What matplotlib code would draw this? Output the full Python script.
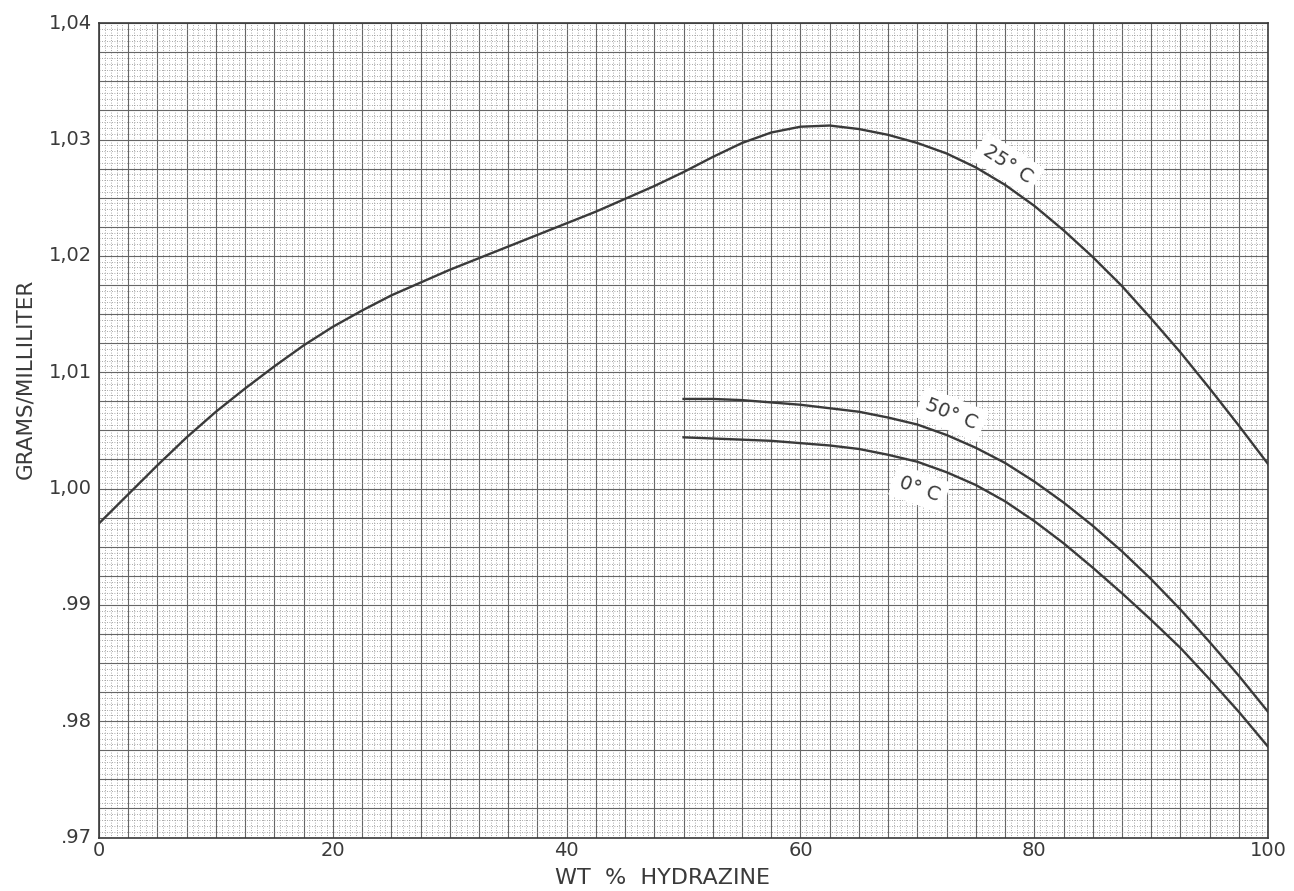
import matplotlib
matplotlib.use('Agg')
import matplotlib.pyplot as plt
import numpy as np

# density of hydrazine-water solutions
wt_25 = [0, 2.5, 5, 7.5, 10, 12.5, 15, 17.5, 20, 22.5, 25, 27.5, 30, 32.5, 35, 37.5, 40,
         42.5, 45, 47.5, 50, 52.5, 55, 57.5, 60, 62.5, 65, 67.5, 70, 72.5, 75, 77.5, 80,
         82.5, 85, 87.5, 90, 92.5, 95, 97.5, 100]
dens_25 = [0.9970, 0.9995, 1.0020, 1.0044, 1.0066, 1.0086, 1.0105, 1.0123, 1.0139, 1.0153,
           1.0166, 1.0177, 1.0188, 1.0198, 1.0208, 1.0218, 1.0228, 1.0238, 1.0249, 1.0260,
           1.0272, 1.0285, 1.0297, 1.0306, 1.0311, 1.0312, 1.0309, 1.0304, 1.0297, 1.0288,
           1.0276, 1.0261, 1.0243, 1.0222, 1.0199, 1.0174, 1.0146, 1.0117, 1.0086, 1.0054, 1.0021]

wt_hot = [50, 52.5, 55, 57.5, 60, 62.5, 65, 67.5, 70, 72.5, 75, 77.5, 80,
          82.5, 85, 87.5, 90, 92.5, 95, 97.5, 100]
dens_50 = [1.0077, 1.0077, 1.0076, 1.0074, 1.0072, 1.0069, 1.0066, 1.0061, 1.0055, 1.0046,
           1.0035, 1.0022, 1.0006, 0.9988, 0.9968, 0.9946, 0.9922, 0.9896, 0.9868, 0.9839, 0.9808]
dens_0 = [1.0044, 1.0043, 1.0042, 1.0041, 1.0039, 1.0037, 1.0034, 1.0029, 1.0023, 1.0014,
          1.0003, 0.9989, 0.9972, 0.9953, 0.9932, 0.9910, 0.9887, 0.9863, 0.9836, 0.9808, 0.9778]

x_ticks = [0, 20, 40, 60, 80, 100]
y_ticks = [0.97, 0.98, 0.99, 1.00, 1.01, 1.02, 1.03, 1.04]
y_labels = ['.97', '.98', '.99', '1,00', '1,01', '1,02', '1,03', '1,04']

ink = '#3a3a3a'

fig = plt.figure(figsize=(12.94, 8.91), dpi=100)
ax = fig.add_axes([0.0765, 0.06, 0.9035, 0.914])

ax.set_xlim(0, 100)
ax.set_ylim(0.97, 1.04)

# graph paper: solid lines every quarter division, dotted fine lines
ax.set_xticks(np.arange(0, 100.01, 2.5), minor=False)
ax.set_xticks(np.arange(0, 100.01, 0.5), minor=True)
ax.set_yticks(np.arange(0.97, 1.04001, 0.0025), minor=False)
ax.set_yticks(np.arange(0.97, 1.04001, 0.0005), minor=True)
ax.grid(True, which='minor', color='#8c8c8c', linestyle=(0, (1, 2)), linewidth=0.6)
ax.grid(True, which='major', color='#666666', linestyle='-', linewidth=0.8)
ax.set_axisbelow(True)

ax.plot(wt_25, dens_25, color=ink, linewidth=1.7, zorder=3)
ax.plot(wt_hot, dens_50, color=ink, linewidth=1.7, zorder=3)
ax.plot(wt_hot, dens_0, color=ink, linewidth=1.7, zorder=3)

box = dict(boxstyle='square,pad=0.35', facecolor='white', edgecolor='none')
ax.text(77.7, 1.0279, '25° C', rotation=-33, fontsize=14, color=ink,
        ha='center', va='center', bbox=box, zorder=2.5)
ax.text(72.9, 1.0064, '50° C', rotation=-22, fontsize=14, color=ink,
        ha='center', va='center', bbox=box, zorder=2.5)
ax.text(70.2, 1.0000, '0° C', rotation=-20, fontsize=14, color=ink,
        ha='center', va='center', bbox=box, zorder=2.5)

# axis numbers drawn as text so the graph paper lines stay free of ticks
for xv in x_ticks:
    ax.text(xv, 0.97 - 0.0003, str(xv), ha='center', va='top', fontsize=14, color=ink)
for yv, lab in zip(y_ticks, y_labels):
    ax.text(-0.6, yv, lab, ha='right', va='center', fontsize=14, color=ink)

ax.tick_params(which='both', length=0, labelbottom=False, labelleft=False)
for s in ax.spines.values():
    s.set_color(ink)
    s.set_linewidth(1.2)

fig.text(0.512, 0.003, 'WT  %  HYDRAZINE', ha='center', va='bottom', fontsize=16, color=ink)
fig.text(0.012, 0.575, 'GRAMS/MILLILITER', rotation=90, ha='left', va='center', fontsize=15.5, color=ink)

fig.savefig('out.png', dpi=100)
